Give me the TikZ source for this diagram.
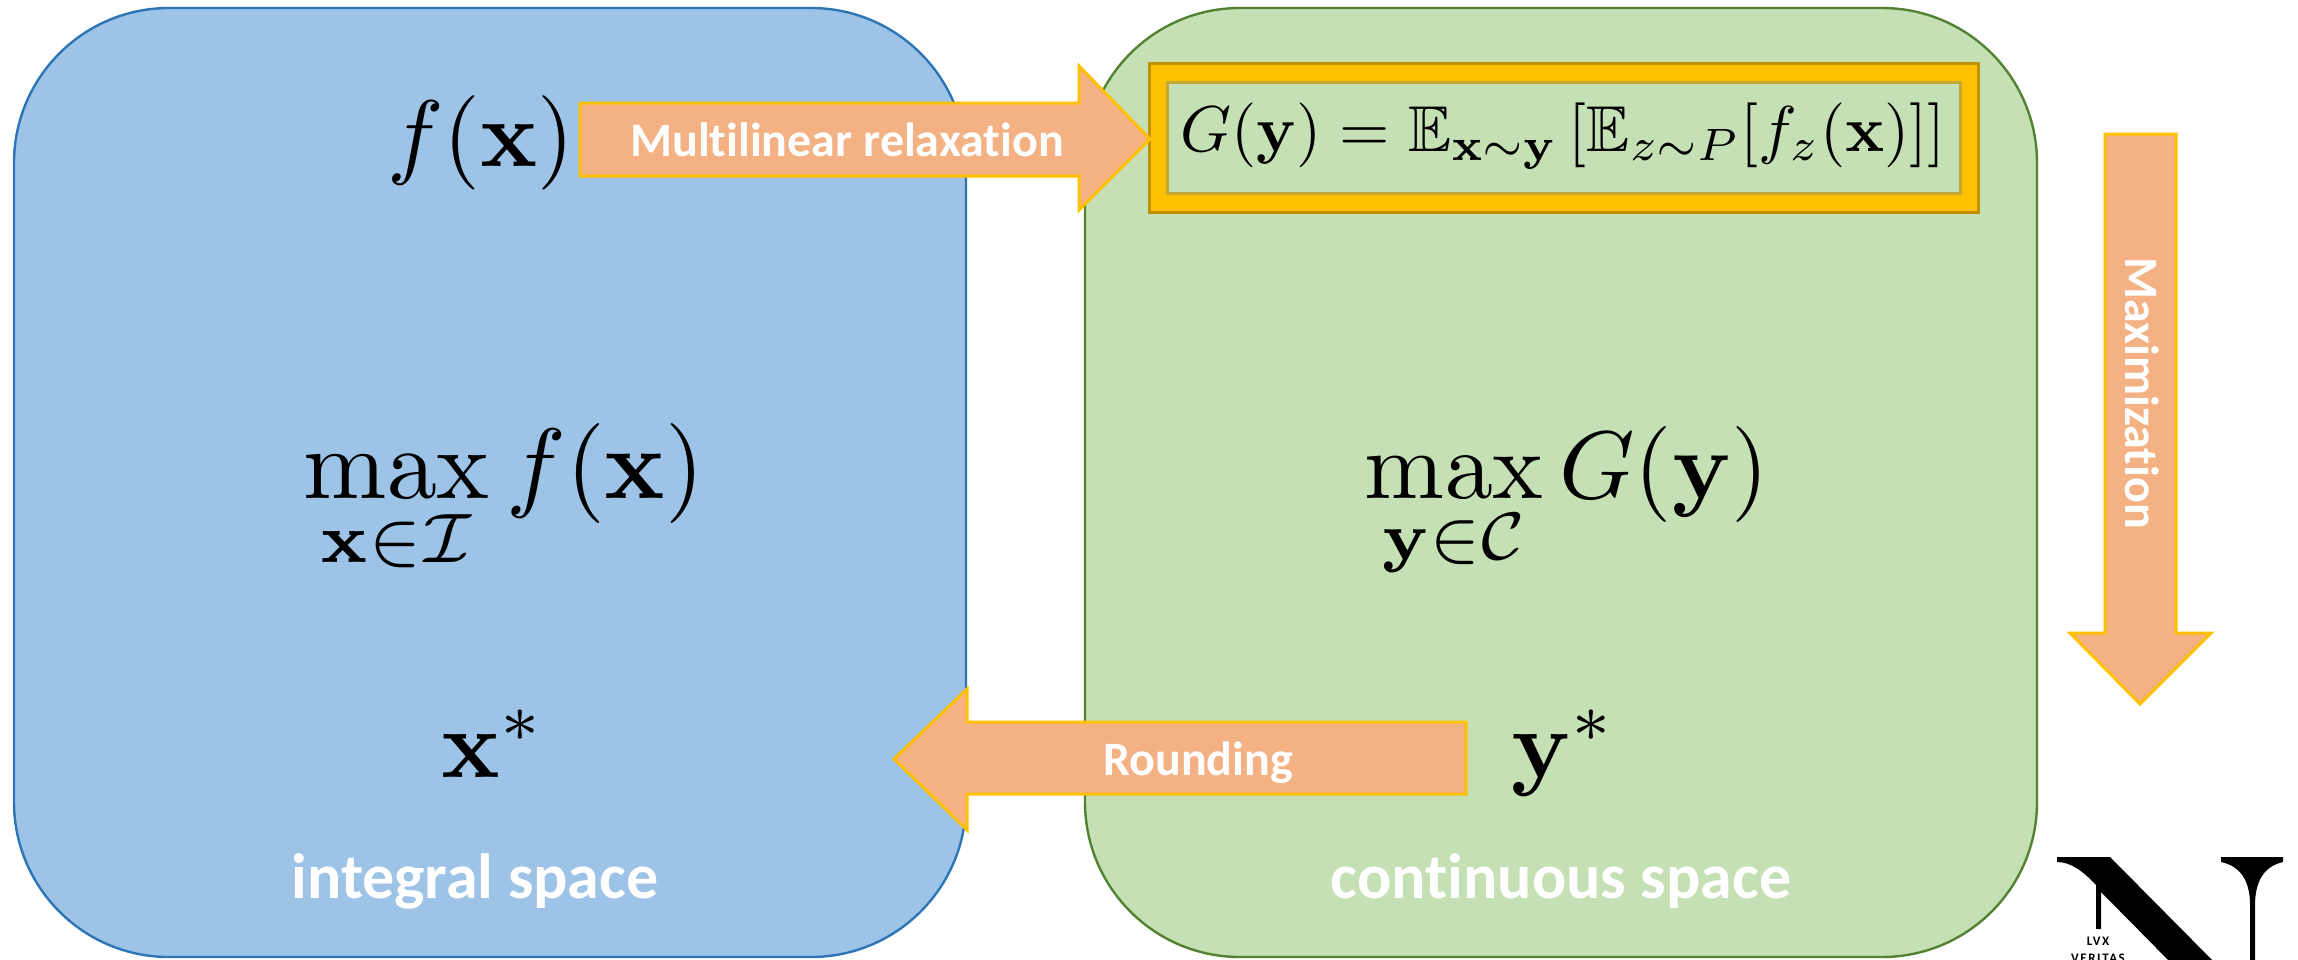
\documentclass[tikz,border=0pt]{standalone}
\usepackage{amsmath,amssymb}
\usepackage[no-math]{fontspec}
\newfontfamily\labelfont[Ligatures=NoCommon]{Carlito}
\newfontfamily\logofont[Ligatures=NoCommon,LetterSpace=12]{Carlito}
\definecolor{bluefill}{HTML}{9DC3E6}
\definecolor{blueline}{HTML}{2E75B6}
\definecolor{greenfill}{HTML}{C5E0B4}
\definecolor{greenline}{HTML}{548235}
\definecolor{arrowfill}{HTML}{F4B183}
\definecolor{gold}{HTML}{FFC000}
\definecolor{goldline}{HTML}{BF9000}
\tikzset{
  panel/.style={rounded corners=155pt,minimum width=952pt,minimum height=949pt,inner sep=0pt,line width=2.4pt},
  blockarrow/.style={fill=arrowfill,draw=gold,line width=3pt,miter limit=10},
  mathbig/.style={inner sep=0pt,text=black},
  arrowtext/.style={inner sep=0pt,text=white,font=\labelfont\fontsize{48}{56}\selectfont\bfseries},
  spacetext/.style={inner sep=0pt,text=white,font=\labelfont\fontsize{64}{76}\selectfont\bfseries},
  logotext/.style={inner sep=0pt,text=black,font=\logofont\fontsize{13}{15}\selectfont\bfseries},
}
\begin{document}
\begin{tikzpicture}[x=1pt,y=-1pt]
\useasboundingbox (0,0) rectangle (2298,959);
\node[panel,fill=bluefill,draw=blueline] (integral) at (490,482.5) {};
\node[panel,fill=greenfill,draw=greenline] (continuous) at (1561,482.5) {};
% gold formula frame
\node[fill=gold,draw=goldline,line width=3pt,minimum width=829pt,minimum height=149pt,inner sep=0pt] (frame) at (1563.5,137.5) {};
\node[fill=greenfill,draw=goldline!70!greenfill,line width=3pt,minimum width=793pt,minimum height=111pt,inner sep=0pt] (framein) at (1563.5,137.5) {};
% block arrows
\draw[blockarrow] (580,103)--(1079,103)--(1079,66)--(1150,139)--(1079,210)--(1079,176)--(580,176)--cycle;
\draw[blockarrow] (1466,722)--(967,722)--(967,689)--(894,759)--(967,830)--(967,794)--(1466,794)--cycle;
\draw[blockarrow] (2105,134)--(2176,134)--(2176,633)--(2211,633)--(2140,704)--(2070,633)--(2105,633)--cycle;
% formula
\node[inner sep=0pt,scale=6.48,text=black] (gformula) at (1563,136) {$G(\mathbf{y})=\mathbb{E}_{\mathbf{x}\sim\mathbf{y}}\left[\mathbb{E}_{z\sim P}[f_z(\mathbf{x})]\right]$};
\node[mathbig,scale=9.45] (fx) at (481,143) {$f(\mathbf{x})$};
\node[mathbig,anchor=base,scale=10] (maxf) at (504,498) {$\displaystyle\max_{\mathbf{x}\in\mathcal{I}}f(\mathbf{x})$};
\node[mathbig,anchor=base,scale=9.6] (maxg) at (1567,498) {$\displaystyle\max_{\mathbf{y}\in\mathcal{C}}G(\mathbf{y})$};
\node[mathbig,anchor=base,scale=9.7] (xstar) at (493,777) {$\mathbf{x}^*$};
\node[mathbig,anchor=base,scale=9.7] (ystar) at (1564,777) {$\mathbf{y}^*$};
\node[arrowtext] (relaxlabel) at (847,140) {Multilinear relaxation};
\node[arrowtext] (roundlabel) at (1198,763) {Rounding};
\node[arrowtext,rotate=-90] (maxlabel) at (2142,393) {Maximization};
\node[spacetext] (intlabel) at (475,881) {integral space};
\node[spacetext] (contlabel) at (1561,881) {continuous space};
% logo
\begin{scope}
\clip (2040,840) rectangle (2298,959);
\fill[black] (2057,857)--(2110,857)--(2217,965)--(2173,965)--(2101,892)--(2101,929)--(2096,929)--(2096,885)
  .. controls (2082,870) and (2070,862) .. (2057,862)--cycle;
\fill[black] (2221,857)--(2283,857)--(2283,862) .. controls (2265,866) and (2255,880) .. (2255,905)--(2255,965)--(2250,965)--(2250,905)
  .. controls (2250,880) and (2240,866) .. (2221,862)--cycle;
\node[logotext] (lvx) at (2098,941) {LVX};
\node[logotext] (veritas) at (2098,958) {VERITAS};
\end{scope}
\end{tikzpicture}
\end{document}
